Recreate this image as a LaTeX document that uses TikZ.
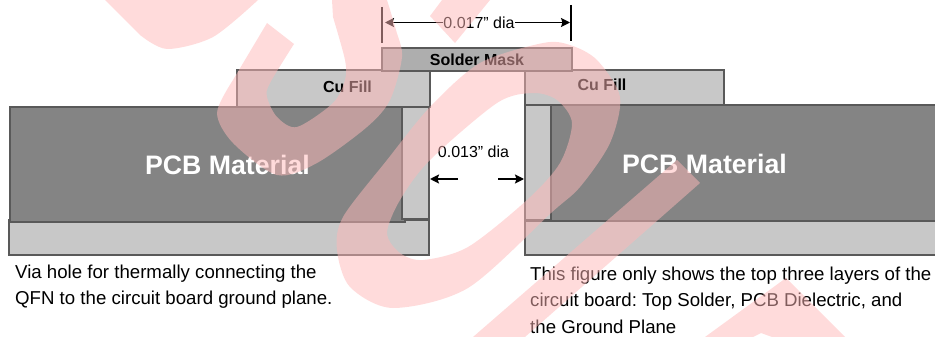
\documentclass[tikz,border=0pt]{standalone}
\usepackage{fontspec}
\setmainfont{Liberation Sans}
\usetikzlibrary{arrows.meta}
\frenchspacing
\definecolor{edgegray}{HTML}{595959}
\definecolor{pcbgray}{HTML}{848484}
\definecolor{cugray}{HTML}{C8C8C8}
\definecolor{maskgray}{HTML}{AEAEAE}
\definecolor{markred}{HTML}{FFB8B8}
\tikzset{
    layerbox/.style={draw=edgegray,line width=2pt,anchor=north west,inner sep=0pt,outer sep=0pt},
    pcbbox/.style={layerbox,fill=pcbgray},
    cubox/.style={layerbox,fill=cugray},
    maskbox/.style={layerbox,fill=maskgray,font=\fontsize{16}{18}\selectfont\bfseries},
    boldlabel/.style={font=\fontsize{16}{18}\selectfont\bfseries,inner sep=0pt},
    pcblabel/.style={font=\fontsize{26.7}{30}\selectfont\bfseries,text=white,inner sep=0pt},
    dimlabel/.style={font=\fontsize{16}{18}\selectfont,inner sep=0pt},
    caption/.style={font=\fontsize{18.65}{26.2}\selectfont,align=left,anchor=north west,inner sep=0pt},
    dimline/.style={line width=1.6pt,-{Stealth[length=9pt,width=9pt,inset=1.5pt]}},
    tick/.style={line width=1.6pt},
    watermark/.style={fill=markred,fill opacity=.5,even odd rule}
}
\begin{document}
\begin{tikzpicture}[x=1pt,y=-1pt]
    \useasboundingbox (0,0) rectangle (935,337);
    % left side of the via
    \node[cubox,minimum width=420pt,minimum height=35pt] (groundL) at (9,220) {};
    \node[pcbbox,minimum width=395pt,minimum height=115pt] (pcbL) at (10,107) {};
    \node[cubox,minimum width=27pt,minimum height=111.7pt] (wallL) at (402,107) {};
    \node[cubox,minimum width=193pt,minimum height=37pt] (cuL) at (237,70) {};
    % right side of the via
    \node[cubox,minimum width=415pt,minimum height=34pt] (groundR) at (525,221) {};
    \node[pcbbox,minimum width=389pt,minimum height=116pt] (pcbR) at (551,105) {};
    \node[cubox,minimum width=26pt,minimum height=115pt] (wallR) at (525,105) {};
    \node[cubox,minimum width=199pt,minimum height=35pt] (cuR) at (525,70) {};
    \node[maskbox,minimum width=190pt,minimum height=23pt] (mask) at (382,48) {Solder Mask};
    % labels
    \node[pcblabel] (pcbtextL) at (227.5,165) {PCB Material};
    \node[pcblabel] (pcbtextR) at (704.5,164) {PCB Material};
    \node[boldlabel] (cutextL) at (347.5,87) {Cu Fill};
    \node[boldlabel] (cutextR) at (602,85) {Cu Fill};
    % dimensions
    \node[dimlabel] (dia17) at (479,22.5) {0.017” dia};
    \node[dimlabel] (dia13) at (473.5,152) {0.013” dia};
    \coordinate (tickLa) at (382,7);
    \coordinate (tickLb) at (382,43);
    \coordinate (tickRa) at (571,5);
    \coordinate (tickRb) at (571,41);
    \draw[tick] (tickLa) -- (tickLb);
    \draw[tick] (tickRa) -- (tickRb);
    \draw[dimline] (dia17.west) -- (385,22.5);
    \draw[dimline] (dia17.east) -- (570,22.5);
    \coordinate (holeLa) at (458,179);
    \coordinate (holeLb) at (430,179);
    \coordinate (holeRa) at (498,179);
    \coordinate (holeRb) at (524,179);
    \draw[dimline] (holeLa) -- (holeLb);
    \draw[dimline] (holeRa) -- (holeRb);
    % captions
    \node[caption] (noteL) at (15,265) {Via hole for thermally connecting the\\QFN to the circuit board ground plane.};
    \node[caption] (noteR) at (530,267) {This figure only shows the top three layers of the\\circuit board: Top Solder, PCB Dielectric, and\\the Ground Plane};
    % watermark goes over everything
    \fill[watermark] (105,0) -- plot[smooth] coordinates {(140,35) (167,49) (213,37) (258,0)} -- cycle;
    \fill[watermark] (267,23) -- plot[smooth] coordinates {(233,80) (217,113) (233,143) (277,175) (317,163) (367,127) (390,100) (402,57) (396,30) (387,0)}
        -- (332,0) -- plot[smooth] coordinates {(333,17) (345,60) (345,80) (333,103) (297,127) (277,117) (267,97) (270,83) (294,44)} -- cycle;
    \fill[watermark] (442,0) -- (430,16) -- (455,43) -- (490,0) -- cycle;
    \fill[watermark] plot[smooth cycle] coordinates {(337,250) (343,217) (387,160) (430,107) (480,63) (543,43) (570,45) (597,60) (620,97) (610,143) (580,187) (551,213) (468,288) (393,308) (350,287)}
        plot[smooth cycle] coordinates {(387,233) (400,200) (430,160) (497,103) (533,93) (557,100) (572,123) (560,163) (527,200) (468,247) (423,260) (400,253)};
    \fill[watermark] (677,160) -- (700,183) -- (525,337) -- (473,337) -- cycle;
    \fill[watermark] (786,278) -- (845,337) -- (772,337) -- (761,333) -- (753,337) -- (705,337) -- cycle;
\end{tikzpicture}
\end{document}
